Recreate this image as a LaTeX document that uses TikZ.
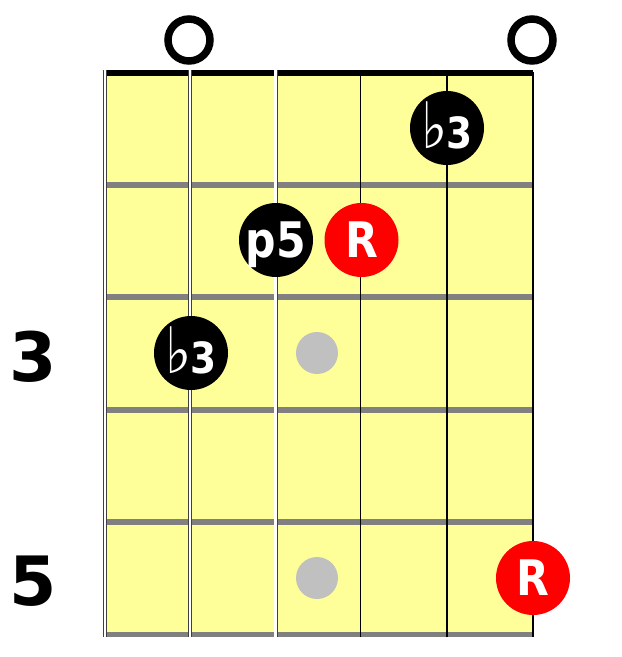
\documentclass[tikz,border=0pt]{standalone}
\usepackage{fontspec}
\setmainfont{DejaVu Sans}
\newfontfamily\dotfont[FakeStretch=0.87]{DejaVu Sans}
\usepackage{tikz}
\usetikzlibrary{positioning}

\definecolor{board}{RGB}{255,255,153}
\definecolor{fretgray}{RGB}{128,128,128}
\definecolor{inlaygray}{RGB}{192,192,192}

\newcommand{\flatthree}{{\fontsize{64}{64}\selectfont\raisebox{-3pt}{♭}}\kern-1pt{\fontsize{43}{43}\selectfont\raisebox{-3pt}{3}}}

\begin{document}
\begin{tikzpicture}[x=1pt,y=-1pt,node distance=85.5pt,
  main node/.style={circle,fill=black,inner sep=0pt,minimum size=74pt,
    text=white,font=\dotfont\bfseries\fontsize{49}{49}\selectfont,
    text height=35pt,text depth=0pt},
  root node/.style={main node,fill=red},
  inlay node/.style={circle,fill=inlaygray,inner sep=0pt,minimum size=42pt},
  open node/.style={circle,draw=black,line width=7.5pt,inner sep=0pt,minimum size=42pt},
  fret num/.style={font=\bfseries\fontsize{68}{68}\selectfont},
  thick string/.style={draw=black!75,line width=0.9pt,double=white,double distance=2.2pt},
  thin string/.style={draw=black,line width=1.5pt},
  fret/.style={draw=fretgray,line width=5.5pt}]

  \useasboundingbox (0,0) rectangle (622,657);

  % board and nut
  \fill[board] (105,72) rectangle (533,635);
  \fill[black] (105,70) rectangle (533,76);

  % frets
  \draw[fret] (105,185) -- (533,185);
  \draw[fret] (105,297) -- (533,297);
  \draw[fret] (105,410) -- (533,410);
  \draw[fret] (105,522) -- (533,522);
  \draw[fret] (105,634.5) -- (533,634.5);

  % strings
  \draw[thick string] (105,70) -- (105,637);
  \draw[thick string] (190,70) -- (190,637);
  \draw[thick string] (275.5,70) -- (275.5,637);
  \draw[thin string] (360.5,72) -- (360.5,637);
  \draw[thin string] (447,72) -- (447,637);
  \draw[thin string] (533,72) -- (533,637);

  % open strings
  \node[open node] (o1) at (189,40) {};
  \node[open node] (o6) at (532,40) {};

  % position markers
  \node[inlay node] (i3) at (317,353) {};
  \node[inlay node] (i5) at (317,578) {};

  % fret numbers
  \node[fret num] (n3) at (33,357) {3};
  \node[fret num] (n5) at (33,581) {5};

  % notes
  \node[main node] (1) at (447,128) {\flatthree};
  \node[main node] (2) at (276,240) {p5};
  \node[root node] (3) [right of=2] {R};
  \node[main node] (4) at (191,353) {\flatthree};
  \node[root node] (5) at (533,578) {R};
\end{tikzpicture}
\end{document}
